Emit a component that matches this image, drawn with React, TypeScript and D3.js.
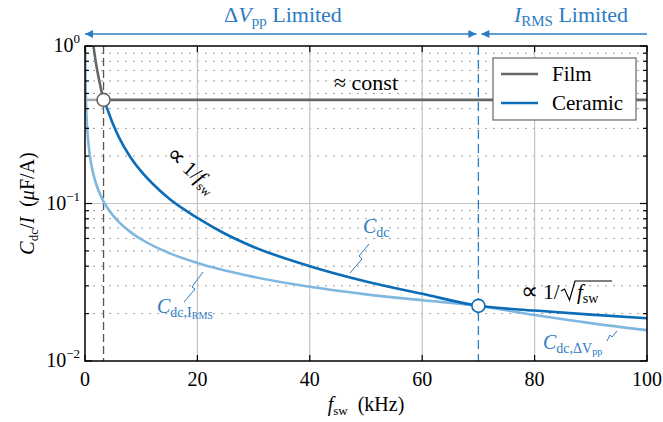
import React from 'react';
import * as d3 from 'd3';

// axis ticks
const xTicks = [0, 20, 40, 60, 80, 100];
const yMajor = [1, 0.1, 0.01];
const yExp = ['0', '\u22121', '\u22122'];

// ceramic, upper envelope (dV_pp limited up to 70 kHz, I_RMS limited after)
const ceramicFreq = [3.3, 4, 5, 6, 8, 10, 12, 15, 20, 25, 30, 40, 50, 60, 70, 80, 90, 100];
const ceramicEnv = [0.455, 0.395, 0.318, 0.265, 0.199, 0.16, 0.134, 0.107, 0.081, 0.064, 0.053, 0.04, 0.032, 0.0267, 0.0224, 0.0209, 0.0197, 0.0187];

// ceramic, the non-binding curve (I_RMS below 70 kHz, dV_pp above)
const ceramicLowFreq = [0.035, 0.06, 0.1, 0.2, 0.4, 0.7, 1, 1.5, 2, 3, 4, 6, 8, 10, 15, 20, 30, 40, 50, 60, 70, 80, 90, 100];
const ceramicLow = [1.0, 0.765, 0.593, 0.419, 0.296, 0.224, 0.187, 0.153, 0.1325, 0.108, 0.0937, 0.0765, 0.0663, 0.0593, 0.0484, 0.0419, 0.0342, 0.0296, 0.0265, 0.0243, 0.0224, 0.0196, 0.0174, 0.0157];

// film
const filmFreq = [1.5, 2, 2.5, 3, 3.3];
const film = [1.0, 0.76, 0.61, 0.505, 0.455];
const filmConstFreq = [3.3, 100];
const filmConst = [0.455, 0.455];
const filmLowFreq = [0, 3.3];
const filmLow = [0.455, 0.455];

// crossover points
const crossFreq = [3.3, 70];
const crossVal = [0.455, 0.0224];

const W = 663;
const H = 422;
const left = 85, right = 647, top = 46, bottom = 361;

const FONT = 'Liberation Serif';
const DARK_BLUE = '#0b6cb8';
const LIGHT_BLUE = '#80b7de';
const TEXT_BLUE = '#2c7cc3';
const DARK_GRAY = '#666666';
const LIGHT_GRAY = '#aaaaaa';

export default function App() {
  const x = d3.scaleLinear().domain([0, 100]).range([left, right]);
  const y = d3.scaleLog().domain([0.01, 1]).range([bottom, top]);

  const pts = (fs: number[], vs: number[]) => fs.map((f, i) => [f, vs[i]] as [number, number]);
  const smooth = d3.line<[number, number]>().x(d => x(d[0])).y(d => y(d[1])).curve(d3.curveMonotoneX);
  const straight = d3.line<[number, number]>().x(d => x(d[0])).y(d => y(d[1]));

  const minor: number[] = [];
  [0.01, 0.1].forEach(dec => {
    for (let k = 2; k <= 9; k++) minor.push(dec * k);
  });

  const x70 = x(70);
  const arrowY = 34;
  const ts = { fontFamily: FONT };

  return (
    <svg width={W} height={H} style={{ position: 'absolute', left: 0, top: 0, fontFamily: FONT }}>
      <defs>
        <clipPath id="plot">
          <rect x={left} y={top} width={right - left} height={bottom - top} />
        </clipPath>
        <marker id="ah" viewBox="0 0 10 10" refX="10" refY="5" markerWidth="12" markerHeight="8" markerUnits="userSpaceOnUse" orient="auto-start-reverse">
          <path d="M0,0 L10,5 L0,10 z" fill={TEXT_BLUE} />
        </marker>
      </defs>
      <rect x={0} y={0} width={W} height={H} fill="#fff" />

      {/* grid */}
      {minor.map(v => (
        <line key={'m' + v} x1={left} x2={right} y1={y(v)} y2={y(v)} stroke="#999" strokeWidth={1} strokeDasharray="2,6" />
      ))}
      {xTicks.slice(1, -1).map(t => (
        <line key={'gx' + t} x1={x(t)} x2={x(t)} y1={top} y2={bottom} stroke="#c4c4c4" strokeWidth={1.2} />
      ))}
      <line x1={left} x2={right} y1={y(0.1)} y2={y(0.1)} stroke="#c4c4c4" strokeWidth={1.2} />

      {/* dashed crossover lines */}
      <line x1={x(crossFreq[0])} x2={x(crossFreq[0])} y1={top} y2={bottom} stroke="#555" strokeWidth={1.3} strokeDasharray="8,4" />
      <line x1={x70} x2={x70} y1={top} y2={bottom} stroke={TEXT_BLUE} strokeWidth={1.3} strokeDasharray="9,5" />

      <g clipPath="url(#plot)" fill="none" strokeWidth={2.6}>
        <path d={straight(pts(filmLowFreq, filmLow)) || ''} stroke={LIGHT_GRAY} />
        <path d={smooth(pts(ceramicLowFreq, ceramicLow)) || ''} stroke={LIGHT_BLUE} />
        <path d={smooth(pts(ceramicFreq, ceramicEnv)) || ''} stroke={DARK_BLUE} />
        <path d={smooth(pts(filmFreq, film)) || ''} stroke={DARK_GRAY} />
        <path d={straight(pts(filmConstFreq, filmConst)) || ''} stroke={DARK_GRAY} />
      </g>

      {/* crossover markers */}
      <circle cx={x(crossFreq[0])} cy={y(crossVal[0])} r={6.5} fill="#fff" stroke={DARK_GRAY} strokeWidth={1.6} />
      <circle cx={x(crossFreq[1])} cy={y(crossVal[1])} r={6.5} fill="#fff" stroke={DARK_BLUE} strokeWidth={1.6} />

      {/* frame and ticks */}
      <rect x={left} y={top} width={right - left} height={bottom - top} fill="none" stroke="#000" strokeWidth={1.5} />
      {xTicks.map(t => (
        <g key={'tx' + t}>
          <line x1={x(t)} x2={x(t)} y1={bottom} y2={bottom - 6} stroke="#000" strokeWidth={1.2} />
          <line x1={x(t)} x2={x(t)} y1={top} y2={top + 6} stroke="#000" strokeWidth={1.2} />
          <text x={x(t)} y={386} textAnchor="middle" fontSize={20} style={ts}>{t}</text>
        </g>
      ))}
      {minor.map(v => (
        <g key={'ty' + v}>
          <line x1={left} x2={left + 4} y1={y(v)} y2={y(v)} stroke="#000" strokeWidth={1.2} />
          <line x1={right} x2={right - 4} y1={y(v)} y2={y(v)} stroke="#000" strokeWidth={1.2} />
        </g>
      ))}
      {yMajor.map((v, i) => (
        <g key={'yl' + v}>
          <line x1={left} x2={left + 7} y1={y(v)} y2={y(v)} stroke="#000" strokeWidth={1.2} />
          <line x1={right} x2={right - 7} y1={y(v)} y2={y(v)} stroke="#000" strokeWidth={1.2} />
          <text x={80} y={y(v) + 6} textAnchor="end" fontSize={20} style={ts}>
            10<tspan dy={-9} fontSize={13}>{yExp[i]}</tspan>
          </text>
        </g>
      ))}

      {/* axis titles */}
      <text x={(left + right) / 2} y={411} textAnchor="middle" fontSize={20} style={ts}>
        <tspan fontStyle="italic">f</tspan>
        <tspan fontSize={13} dy={4}>sw</tspan>
        <tspan dy={-4}>{'\u00a0\u00a0(kHz)'}</tspan>
      </text>
      <text transform={`translate(34,${(top + bottom) / 2}) rotate(-90)`} textAnchor="middle" fontSize={20} style={ts}>
        <tspan fontStyle="italic">C</tspan>
        <tspan fontSize={13} dy={4}>dc</tspan>
        <tspan dy={-4}>/</tspan>
        <tspan fontStyle="italic">I</tspan>
        <tspan>{'\u00a0\u00a0('}</tspan>
        <tspan fontStyle="italic">{'\u03bc'}</tspan>
        <tspan>F/A)</tspan>
      </text>

      {/* top region arrows */}
      <line x1={left} x2={x70 - 2} y1={arrowY} y2={arrowY} stroke={TEXT_BLUE} strokeWidth={1.5} markerStart="url(#ah)" markerEnd="url(#ah)" />
      <line x1={x70 + 3} x2={right} y1={arrowY} y2={arrowY} stroke={TEXT_BLUE} strokeWidth={1.5} markerStart="url(#ah)" />
      <text x={283} y={22} textAnchor="middle" fontSize={22} fill={TEXT_BLUE} style={ts}>
        {'\u0394'}<tspan fontStyle="italic">V</tspan><tspan fontSize={15} dy={4}>pp</tspan><tspan dy={-4}> Limited</tspan>
      </text>
      <text x={571} y={22} textAnchor="middle" fontSize={22} fill={TEXT_BLUE} style={ts}>
        <tspan fontStyle="italic">I</tspan><tspan fontSize={15} dy={4}>RMS</tspan><tspan dy={-4}> Limited</tspan>
      </text>

      {/* legend */}
      <rect x={493} y={58} width={143} height={62} fill="#fff" stroke="#666" strokeWidth={1.2} />
      <line x1={501} x2={538} y1={74} y2={74} stroke={DARK_GRAY} strokeWidth={2.6} />
      <text x={552} y={81} fontSize={21} style={ts}>Film</text>
      <line x1={501} x2={538} y1={103} y2={103} stroke={DARK_BLUE} strokeWidth={2.6} />
      <text x={552} y={110} fontSize={21} style={ts}>Ceramic</text>

      {/* annotations */}
      <text x={366} y={90} textAnchor="middle" fontSize={22} style={ts}>{'\u2248 const'}</text>
      <text transform="translate(187,175) rotate(41)" textAnchor="middle" fontSize={21} style={ts}>
        <tspan fontSize={24}>{'\u221d'}</tspan>{' 1/'}<tspan fontStyle="italic">f</tspan><tspan fontSize={13} dy={4}>sw</tspan>
      </text>
      <text x={521} y={299} fontSize={21} style={ts}>
        <tspan fontSize={24}>{'\u221d'}</tspan>{' 1/'}
      </text>
      <path d="M561,291 L564.5,289 L569.5,300 L575,281 L612,281" fill="none" stroke="#000" strokeWidth={1.2} />
      <text x={577} y={299} fontSize={21} style={ts}>
        <tspan fontStyle="italic">f</tspan><tspan fontSize={14} dy={4}>sw</tspan>
      </text>

      <text x={363} y={233} fontSize={20} fill={TEXT_BLUE} style={ts}>
        <tspan fontStyle="italic">C</tspan><tspan fontSize={14} dy={4}>dc</tspan>
      </text>
      <path d="M350,273 L362,259 L359,256 L369,244" fill="none" stroke={TEXT_BLUE} strokeWidth={1} />

      <text x={157} y={313} fontSize={20} fill={TEXT_BLUE} style={ts}>
        <tspan fontStyle="italic">C</tspan><tspan fontSize={14} dy={4}>dc,I</tspan><tspan fontSize={10} dy={2}>RMS</tspan>
      </text>
      <path d="M203,272 L192,287 L195,289 L184,302" fill="none" stroke={TEXT_BLUE} strokeWidth={1} />

      <text x={543} y={349} fontSize={20} fill={TEXT_BLUE} style={ts}>
        <tspan fontStyle="italic">C</tspan><tspan fontSize={14} dy={4}>{'dc,\u0394V'}</tspan><tspan fontSize={10} dy={2}>pp</tspan>
      </text>
      <path d="M617,331 L612,337 L610,335 L607,341" fill="none" stroke={TEXT_BLUE} strokeWidth={1} />
    </svg>
  );
}
